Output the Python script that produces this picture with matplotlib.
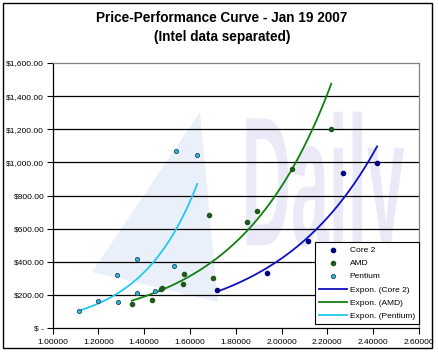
import numpy as np
import matplotlib
matplotlib.use("Agg")
import matplotlib.pyplot as plt
from matplotlib.patches import Rectangle, Polygon, PathPatch
from matplotlib.textpath import TextPath
from matplotlib.transforms import Affine2D, IdentityTransform
from matplotlib.ticker import FuncFormatter

plt.rcParams['font.family'] = ['Liberation Sans', 'DejaVu Sans']

# price-performance data
core2_x = [1.716, 1.937, 2.114, 2.269, 2.417]
core2_y = [228, 334, 529, 939, 995]

amd_x = [1.346, 1.434, 1.472, 1.478, 1.569, 1.573, 1.700, 1.683, 1.849, 1.894, 2.045, 2.217]
amd_y = [144, 170, 236, 242, 268, 328, 306, 685, 643, 706, 961, 1203]

pentium_x = [1.114, 1.199, 1.282, 1.286, 1.369, 1.369, 1.446, 1.531, 1.538, 1.632]
pentium_y = [106, 164, 322, 160, 420, 214, 224, 376, 1069, 1043]

x_ticks = [1.0, 1.2, 1.4, 1.6, 1.8, 2.0, 2.2, 2.4, 2.6]
y_ticks = [0, 200, 400, 600, 800, 1000, 1200, 1400, 1600]


def expon_fit(x, y):
    # same as Excel's exponential trendline: linear fit on ln(y)
    x = np.asarray(x, float)
    b, a = np.polyfit(x, np.log(y), 1)
    xs = np.linspace(x.min(), x.max(), 60)
    return xs, np.exp(a + b * xs)


def money(v, pos):
    if v == 0:
        return '$ -'
    return '${:,.2f}'.format(v)


fig = plt.figure(figsize=(4.38, 3.56), dpi=100)
W, H = 438, 356
ax = fig.add_axes([52.5 / W, 1 - 328.3 / H, (419 - 52.5) / W, (328.3 - 63) / H])

# outer chart border
fig.patches.append(Rectangle((3 / W, 8 / H), 429 / W, 345 / H, transform=fig.transFigure,
                             fill=False, edgecolor='black', linewidth=1.0))

# faint watermark (logo + "Daily"), pixel positions measured from the top
ax.add_patch(Polygon([[92, H - 272], [200, H - 112], [218, H - 302]], closed=True,
                     transform=IdentityTransform(), facecolor='#eaf0fa', edgecolor='none', zorder=0))
tp = TextPath((0, 0), 'Daily', size=40, prop={'family': 'Liberation Sans', 'weight': 'bold'})
wm = PathPatch(tp, facecolor='#e9e9f8', edgecolor='none', zorder=0)
wm.set_transform(Affine2D().scale(1.7, 4.6).translate(242, H - 245))
ax.add_patch(wm)

for v in y_ticks[1:-1]:
    ax.axhline(v, color='black', linewidth=0.9, zorder=1)

ax.scatter(core2_x, core2_y, s=9, color='#000080', zorder=3, label='Core 2')
ax.scatter(amd_x, amd_y, s=9, color='#1e5a1e', zorder=3, label='AMD')
ax.scatter(pentium_x, pentium_y, s=9, color='#33b8d6', edgecolors='#1a4a6a',
           linewidths=0.6, zorder=3, label='Pentium')

xs, ys = expon_fit(core2_x, core2_y)
ax.plot(xs, ys, color='#1010c0', linewidth=1.3, zorder=2, label='Expon. (Core 2)')
xs, ys = expon_fit(amd_x, amd_y)
ax.plot(xs, ys, color='#108010', linewidth=1.3, zorder=2, label='Expon. (AMD)')
xs, ys = expon_fit(pentium_x, pentium_y)
ax.plot(xs, ys, color='#22c8ee', linewidth=1.3, zorder=2, label='Expon. (Pentium)')

ax.set_xlim(1.0, 2.6)
ax.set_ylim(0, 1600)
ax.set_xticks(x_ticks)
ax.set_yticks(y_ticks)
ax.xaxis.set_major_formatter(FuncFormatter(lambda v, p: '%.5f' % v))
ax.yaxis.set_major_formatter(FuncFormatter(money))
ax.tick_params(labelsize=6, length=4, width=0.8, direction='out', colors='black')
ax.tick_params(axis='x', pad=4)
ax.tick_params(axis='y', pad=2)

for side in ['left', 'bottom']:
    ax.spines[side].set_color('black')
    ax.spines[side].set_linewidth(0.9)
for side in ['top', 'right']:
    ax.spines[side].set_color('#808080')
    ax.spines[side].set_linewidth(0.9)

leg = ax.legend(loc='lower right', bbox_to_anchor=(1.0, 0.015), fontsize=6, frameon=True,
                fancybox=False, edgecolor='black', framealpha=1, handlelength=3.4,
                borderpad=0.5, labelspacing=0.65, handletextpad=0.3, borderaxespad=0)
leg.get_frame().set_linewidth(0.8)
leg.set_zorder(5)

fig.text(0.507, 1 - 18 / H, 'Price-Performance Curve - Jan 19 2007', ha='center', va='center',
         fontsize=9.8, fontweight='bold')
fig.text(0.507, 1 - 37 / H, '(Intel data separated)', ha='center', va='center',
         fontsize=9.8, fontweight='bold')

fig.savefig('out.png', dpi=100)
